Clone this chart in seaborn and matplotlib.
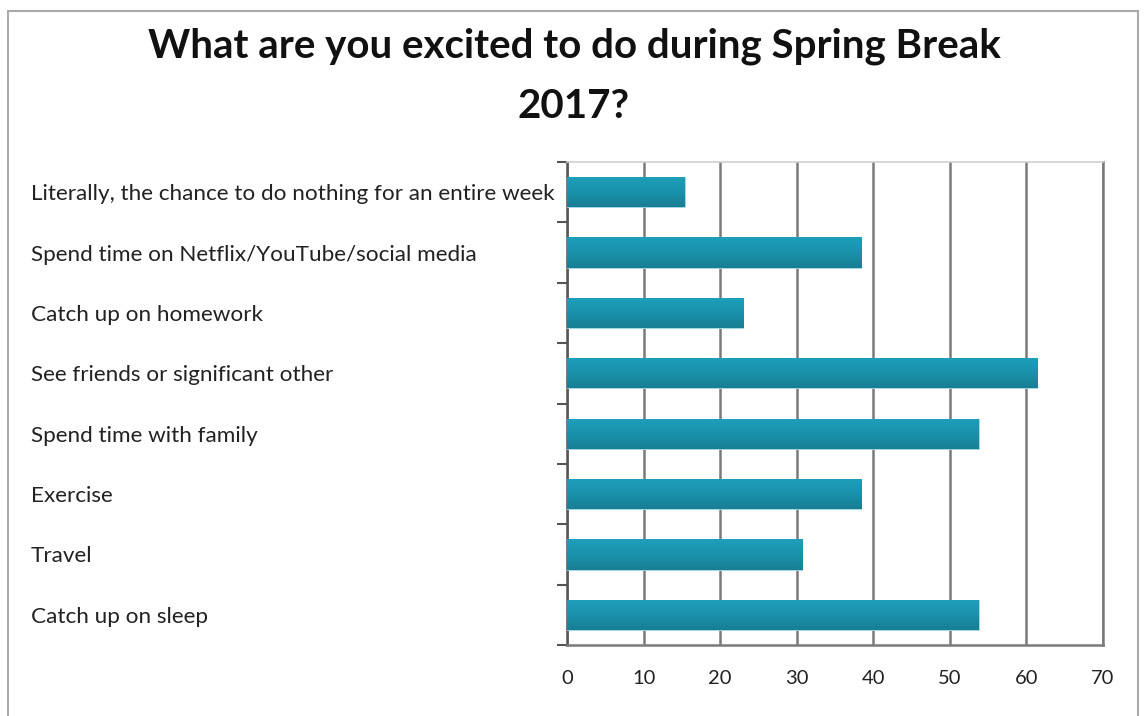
import numpy as np
import pandas as pd
import matplotlib
matplotlib.use("Agg")
import matplotlib.pyplot as plt
import seaborn as sns
from matplotlib.patches import Rectangle

categories = [
    "Literally, the chance to do nothing for an entire week",
    "Spend time on Netflix/YouTube/social media",
    "Catch up on homework",
    "See friends or significant other",
    "Spend time with family",
    "Exercise",
    "Travel",
    "Catch up on sleep",
]
values = [15.4, 38.4, 23.0, 61.4, 53.8, 38.4, 30.7, 53.8]
x_ticks = [0, 10, 20, 30, 40, 50, 60, 70]
title = "What are you excited to do during Spring Break\n2017?"

sns.set_theme(style="white")
plt.rcParams["font.family"] = ["Lato", "DejaVu Sans"]

df = pd.DataFrame({"activity": categories, "pct": values})

fig = plt.figure(figsize=(11.48, 7.16), dpi=100)
ax = fig.add_axes([0.4939, 0.0992, 0.4669, 0.6745])

sns.barplot(data=df, y="activity", x="pct", orient="h", width=0.5,
            color="#1A8CA6", ax=ax, saturation=1)

# gradient fill on bars
grad = np.linspace(0, 1, 64).reshape(-1, 1)
cmap = matplotlib.colors.LinearSegmentedColormap.from_list(
    "g", ["#1E9FBA", "#1A92AC", "#187E93"])
for p in ax.patches:
    x0, y0 = p.get_x(), p.get_y()
    w, h = p.get_width(), p.get_height()
    im = ax.imshow(grad, cmap=cmap, aspect="auto", extent=(x0, x0 + w, y0 + h, y0),
                   zorder=3, interpolation="bicubic")
    im.set_clip_path(p)
    p.set_edgecolor("#a8dbe6")
    p.set_linewidth(0.6)
    p.set_zorder(3)

ax.set_xlim(0, 70)
ax.set_ylim(len(categories) - 0.5, -0.5)
ax.set_xticks(x_ticks)
ax.set_xticklabels([str(t) for t in x_ticks], fontsize=14.5, color="#222222")
ax.tick_params(axis="x", length=0, pad=18)

ax.xaxis.grid(True, color="#7a7a7a", linewidth=1.8, zorder=0)
ax.set_axisbelow(True)

# category boundaries as major ticks, labels on minor ticks
n = len(categories)
ax.set_yticks(np.arange(-0.5, n, 1.0))
ax.set_yticklabels([])
ax.tick_params(axis="y", which="major", length=7, width=1.5, color="#555555", left=True)
ax.set_yticks(np.arange(n), minor=True)
ax.set_yticklabels(categories, minor=True, fontsize=16.2, color="#222222")
ax.tick_params(axis="y", which="minor", length=0, pad=386, left=True)
for lbl in ax.get_yticklabels(minor=True):
    lbl.set_horizontalalignment("left")

ax.set_xlabel("")
ax.set_ylabel("")

for side in ["left", "bottom", "right", "top"]:
    ax.spines[side].set_visible(True)
ax.spines["left"].set_color("#555555")
ax.spines["left"].set_linewidth(1.8)
ax.spines["bottom"].set_color("#7a7a7a")
ax.spines["bottom"].set_linewidth(1.8)
ax.spines["right"].set_color("#7a7a7a")
ax.spines["right"].set_linewidth(1.8)
ax.spines["top"].set_color("#d0d0d0")
ax.spines["top"].set_linewidth(1.2)

fig.text(0.5, 0.962, title, ha="center", va="top", fontsize=29,
         fontweight="bold", color="#111111", linespacing=1.78)

# outer frame
fig.patches.append(Rectangle((8 / 1148, -0.05), (1138 - 8) / 1148, 1.05 - 11 / 716,
                             transform=fig.transFigure, fill=False,
                             edgecolor="#aaaaaa", linewidth=1.5))

fig.savefig("out.png", dpi=100, facecolor="white")
